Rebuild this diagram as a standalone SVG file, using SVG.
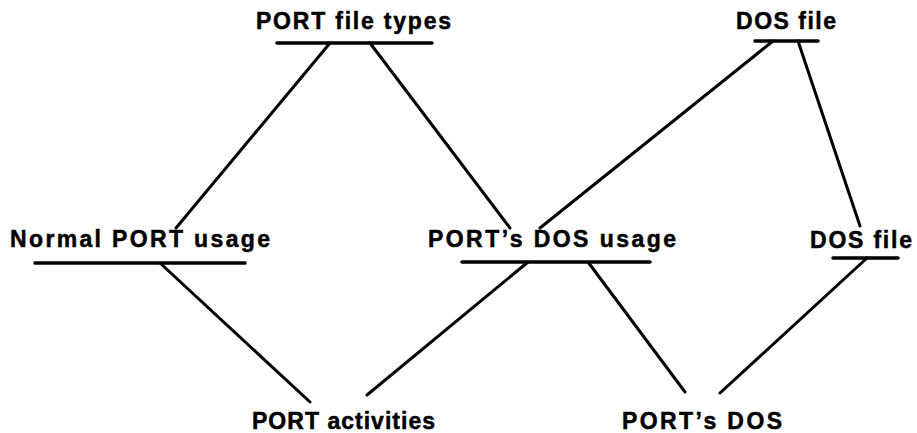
<svg xmlns="http://www.w3.org/2000/svg" width="917" height="433" viewBox="0 0 917 433">
  <style>
    .lbl { font-family: "Liberation Sans", Arial, sans-serif; font-weight: bold; font-size: 23px; fill: #000; stroke: #000; stroke-width: 0.5; }
    .bar { stroke: #000; stroke-width: 3.5; stroke-linecap: round; fill: none; }
    .edge { stroke: #000; stroke-width: 3; stroke-linecap: round; fill: none; }
  </style>
  <rect width="917" height="433" fill="#fff"/>

  <g id="connectors">
    <line class="edge" x1="330" y1="43" x2="176" y2="228"/>
    <line class="edge" x1="370" y1="43" x2="510" y2="228"/>
    <line class="edge" x1="773" y1="41" x2="540" y2="228"/>
    <line class="edge" x1="798" y1="41" x2="860" y2="226"/>
    <line class="edge" x1="160" y1="263" x2="310" y2="402"/>
    <line class="edge" x1="528" y1="262" x2="367" y2="395"/>
    <line class="edge" x1="588" y1="262" x2="685" y2="392"/>
    <line class="edge" x1="867" y1="258" x2="720" y2="393"/>
  </g>

  <g id="port-file-types">
    <text class="lbl" x="256" y="29" textLength="195" lengthAdjust="spacing">PORT file types</text>
    <line class="bar" x1="277" y1="43" x2="432" y2="43"/>
  </g>

  <g id="dos-file-top">
    <text class="lbl" x="736" y="29" textLength="100" lengthAdjust="spacing">DOS file</text>
    <line class="bar" x1="755" y1="41" x2="818" y2="41"/>
  </g>

  <g id="normal-port-usage">
    <text class="lbl" x="10" y="247" textLength="260" lengthAdjust="spacing">Normal PORT usage</text>
    <line class="bar" x1="35" y1="263" x2="245" y2="263"/>
  </g>

  <g id="ports-dos-usage">
    <text class="lbl" x="428" y="247" textLength="248" lengthAdjust="spacing">PORT’s DOS usage</text>
    <line class="bar" x1="462" y1="262" x2="650" y2="262"/>
  </g>

  <g id="dos-file-lower">
    <text class="lbl" x="810" y="248" textLength="102" lengthAdjust="spacing">DOS file</text>
    <line class="bar" x1="833" y1="258" x2="898" y2="258"/>
  </g>

  <g id="port-activities">
    <text class="lbl" x="252" y="429" textLength="183" lengthAdjust="spacing">PORT activities</text>
  </g>

  <g id="ports-dos">
    <text class="lbl" x="622" y="429" textLength="160" lengthAdjust="spacing">PORT’s DOS</text>
  </g>
</svg>
